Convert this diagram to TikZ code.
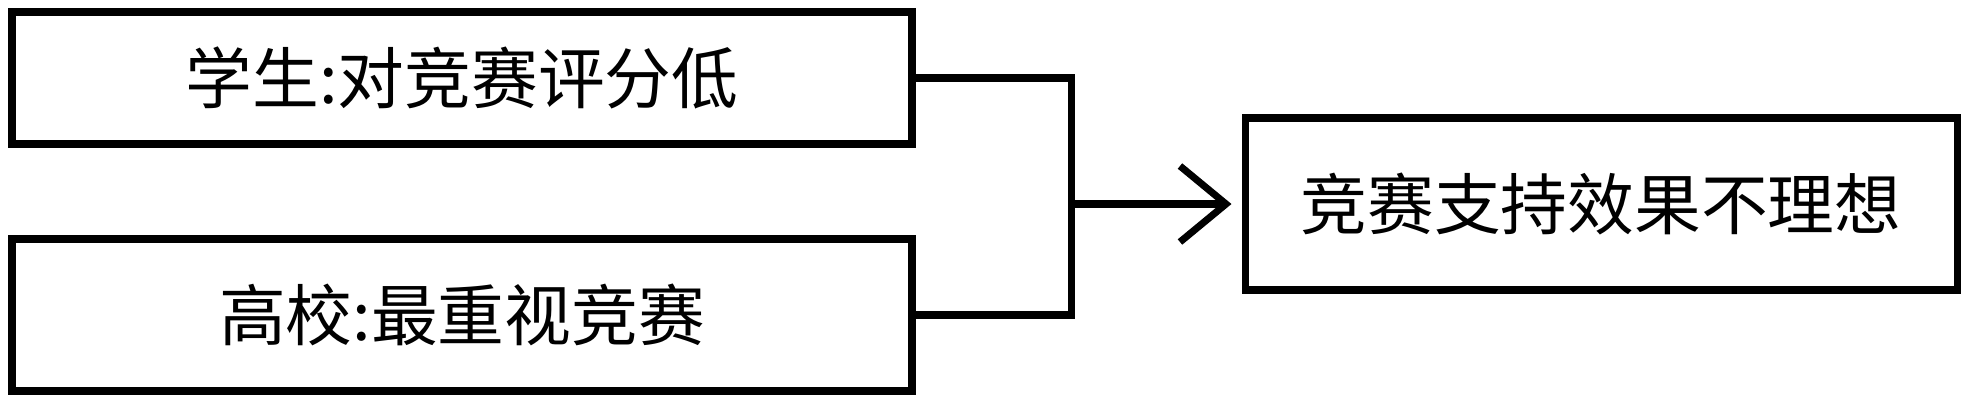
\documentclass[tikz,border=0pt]{standalone}
\usepackage{fontspec}
\newfontfamily\cjk{Noto Sans CJK SC}
\usetikzlibrary{positioning, arrows.meta}

\tikzset{
  causebox/.style={draw, line width=2pt, minimum width=9cm, inner sep=0pt,
    font=\cjk\fontsize{19}{22}\selectfont},
  link/.style={line width=2pt},
  openarrow/.style={link, -{Straight Barb[length=4.6mm, width=7.6mm, line width=2pt]}, shorten >=1mm}
}

\begin{document}
\begin{tikzpicture}
\useasboundingbox (0,0) rectangle (19.69,4.06);
\node[causebox, minimum height=1.32cm] (student) at (4.62,3.28) {学生:对竞赛评分低};
\node[causebox, minimum height=1.52cm] (school) at (4.62,0.91) {高校:最重视竞赛};
\node[causebox, minimum width=7.12cm, minimum height=1.72cm] (result) at (16.01,2.02) {竞赛支持效果不理想};
\coordinate (join) at (10.71,2.02);
\draw[link] (student.east) -| (join) |- (school.east);
\draw[openarrow] (join) -- (result.west);
\end{tikzpicture}
\end{document}
